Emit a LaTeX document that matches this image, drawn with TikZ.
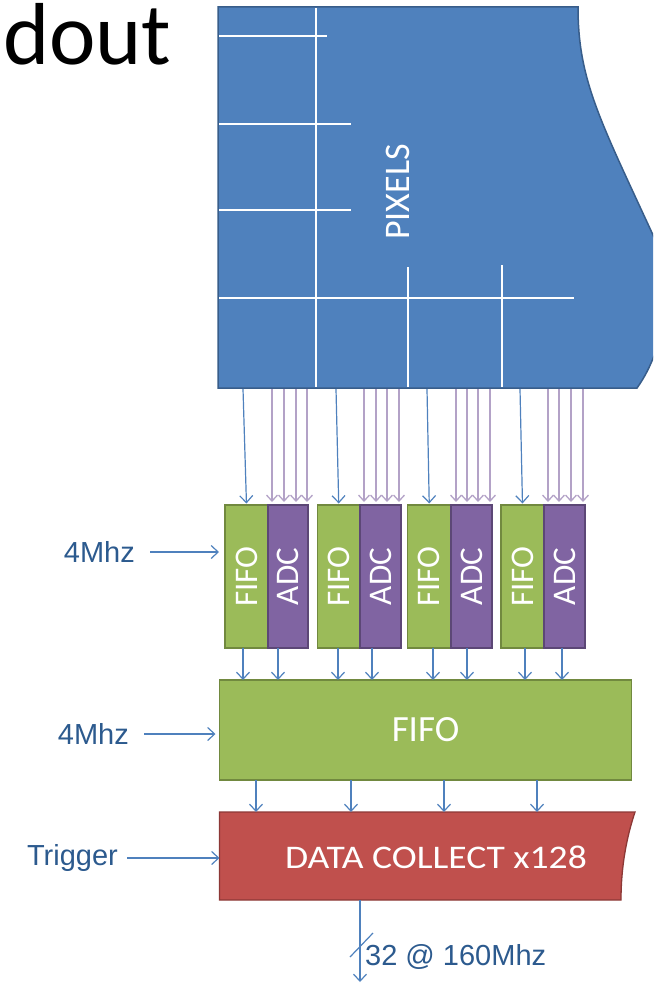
\documentclass[tikz,border=0pt]{standalone}
\usepackage{fontspec}
\setmainfont{Carlito}
\newfontfamily\arialf{Liberation Sans}
\usetikzlibrary{arrows.meta,calc}
\definecolor{pixblue}{HTML}{4F81BD}
\definecolor{pixedge}{HTML}{385D8A}
\definecolor{fifog}{HTML}{9BBB59}
\definecolor{fifoedge}{HTML}{71893F}
\definecolor{adcp}{HTML}{8064A2}
\definecolor{adcedge}{HTML}{5C4776}
\definecolor{redc}{HTML}{C0504D}
\definecolor{rededge}{HTML}{8C3836}
\definecolor{arrowblue}{HTML}{4F81BD}
\definecolor{purplearrow}{HTML}{B3A2C7}
\definecolor{labelblue}{HTML}{2C5A8E}
\begin{document}
\begin{tikzpicture}[x=1pt,y=-1pt,
  bluearr/.style={draw=arrowblue, line width=1.2pt, -{Straight Barb[length=7pt,width=13pt]}},
  purarr/.style={draw=purplearrow, line width=1.3pt, -{Straight Barb[length=6pt,width=11pt]}},
  lbl/.style={text=labelblue, font=\arialf\fontsize{29}{29}\selectfont, inner sep=0},
  gridline/.style={draw=white, line width=1.3pt},
  smallfifo/.style={draw=fifoedge, fill=fifog, line width=1.3pt, rotate=90, minimum width=143, inner sep=0, outer sep=0, text=white, font=\fontsize{33}{33}\selectfont},
  smalladc/.style={draw=adcedge, fill=adcp, line width=1.3pt, rotate=90, minimum width=143, inner sep=0, outer sep=0, text=white, font=\fontsize{33}{33}\selectfont},
  bigfifo/.style={draw=fifoedge, fill=fifog, line width=1.3pt, minimum width=412, minimum height=100, inner sep=0, outer sep=0, text=white, font=\fontsize{37}{37}\selectfont}
]
\useasboundingbox (0,0) rectangle (653,984);

% title fragment
\node[anchor=base west, inner sep=0, font=\fontsize{88}{88}\selectfont] (title) at (3,65) {dout};

% pixel array
\begin{scope}
\clip (0,0) rectangle (653,984);
\path[fill=pixblue, draw=pixedge, line width=1.5pt]
  (218,7) -- (578,7) .. controls (578,80) and (600,120) .. (653,235)
  .. controls (673,278) and (668,345) .. (637,388) -- (218,388) -- cycle;
\end{scope}
\draw[gridline] (316,8) -- (316,387);
\draw[gridline] (219,36) -- (327,36);
\draw[gridline] (219,124) -- (351,124);
\draw[gridline] (219,210) -- (351,210);
\draw[gridline] (219,298) -- (574,298);
\draw[gridline] (408,267) -- (408,387);
\draw[gridline] (502,265) -- (502,387);
\node[rotate=90, text=white, font=\fontsize{36}{36}\selectfont, inner sep=0] (pixels) at (398,192) {PIXELS};

% big FIFO and data collect
\node[bigfifo] (big) at (425.5,730) {FIFO};
\node[minimum width=401, minimum height=88, inner sep=0, outer sep=0] (dc) at (420,856) {};
\path[fill=redc, draw=rededge, line width=1.3pt]
  (dc.north west) -- (635,812) .. controls (629,830) and (621,860) .. (621,900) -- (dc.south west) -- cycle;
\node[text=white, font=\fontsize{33}{33}\selectfont, inner sep=0, xscale=1.14] (dctext) at (436,857) {DATA COLLECT x128};

% small FIFO / ADC blocks and their connectors
\foreach \i/\fc/\fw/\ac/\aw/\bt/\fd/\ad/\pa/\pb/\pc/\pd in {
  1/246.5/43/288/40/243/243/278/272/284/296/307,
  2/338.75/42.5/380.5/41/336/338/372/364/376/387/399,
  3/429.25/43.5/471.5/41/427/433/467/456/467/478/490,
  4/522.5/43/564.5/41/520/525/562/548/559/571/583}{
  \node[smallfifo, minimum height=\fw] (f\i) at (\fc,576.5) {FIFO};
  \node[smalladc, minimum height=\aw] (a\i) at (\ac,576.5) {ADC};
  \coordinate (pt\i) at (\bt,389);
  \draw[bluearr, shorten >=1.5pt] (pt\i) -- (f\i.east);
  \foreach \p [count=\j] in {\pa,\pb,\pc,\pd}{
    \coordinate (pp\i\j) at (\p,389);
    \draw[purarr, shorten >=3pt] (pp\i\j) -- (pp\i\j |- a\i.east);
  }
  \coordinate (fd\i) at (\fd,648);
  \coordinate (ad\i) at (\ad,648);
  \draw[bluearr] (fd\i) -- (fd\i |- big.north);
  \draw[bluearr] (ad\i) -- (ad\i |- big.north);
}

% big FIFO -> data collect
\foreach \x [count=\k] in {256,351,444,537}{
  \coordinate (bf\k) at (\x,780);
  \draw[bluearr] (bf\k) -- (bf\k |- dc.north);
}

% input labels
\node[lbl, anchor=east] (clk1) at (135,552) {4Mhz};
\draw[bluearr, shorten <=15pt, shorten >=6pt] (clk1.east) -- (clk1.east -| f1.north);
\node[lbl, anchor=east] (clk2) at (129,734) {4Mhz};
\draw[bluearr, shorten <=15pt, shorten >=4pt] (clk2.east) -- (clk2.east -| big.west);
\node[lbl, anchor=east] (trig) at (118,858) {Trigger};
\draw[bluearr, shorten <=9pt] (trig.east) -- (trig.east -| dc.west);

% output
\coordinate (outend) at (360,982);
\draw[bluearr] (dc.south -| outend) -- (outend);
\coordinate (slA) at (350,957);
\coordinate (slB) at (373,933);
\draw[draw=arrowblue, line width=1.2pt] (slA) -- (slB);
\node[lbl, anchor=west] (outlbl) at (365,957) {32 @ 160Mhz};
\end{tikzpicture}
\end{document}
